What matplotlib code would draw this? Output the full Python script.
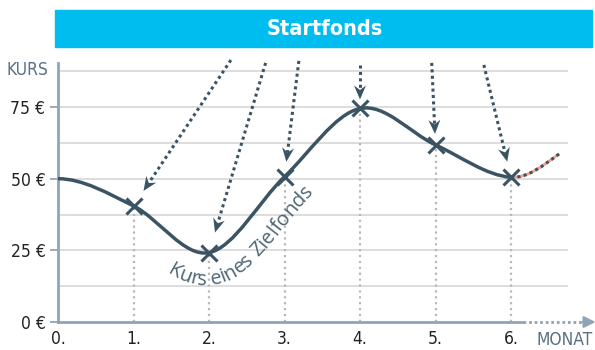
import numpy as np
import matplotlib
matplotlib.use('agg')
import matplotlib.pyplot as plt
from matplotlib.path import Path
from matplotlib.patches import PathPatch, Polygon, Rectangle
from matplotlib.font_manager import FontProperties, fontManager, findfont, get_font
from matplotlib.ft2font import LoadFlags

## Kurs des Startfonds pro Monat (EUR)
months = [0, 1, 2, 3, 4, 5, 6]
kurs = [50, 40.5, 24.2, 50.7, 74.5, 61.8, 50.5]
## Ausblick nach Monat 6
outlook_x = [6.64]
outlook_y = [58.7]

month_labels = ['0.', '1.', '2.', '3.', '4.', '5.', '6.']
y_ticks = [0, 25, 50, 75]
y_labels = ['0 €', '25 €', '50 €', '75 €']
grid_y = [12.5, 25, 37.5, 50, 62.5, 75, 87.5]

## Startpunkte der Zeigerpfeile (Monat 1..6) und Abstand vor dem Kreuz in px
arrow_start = [(2.29, 91.4), (2.75, 90.4), (3.19, 91.1), (4.0, 89.7), (4.95, 90.4), (5.64, 89.7)]
arrow_gap = [18, 21, 15, 9, 11, 16]

dark = '#3b5464'
axis_col = '#8fa5b5'
grid_col = '#dadada'
vline_col = '#b8b8b8'
label_col = '#5b7181'
cyan = '#00bdf0'
salmon = '#f4a283'

## condensed face if the system has one
has_cond = any(f.name == 'DejaVu Sans' and f.stretch == 'condensed' for f in fontManager.ttflist)
if has_cond:
    narrow = dict(family='DejaVu Sans', stretch='condensed')
else:
    narrow = dict(family='Roboto')
tick_size, title_size = 12.5, 15.5


def hermite_path(xs, ys, ms):
    ## cubic Hermite through the points, as bezier segments
    verts = [(xs[0], ys[0])]
    codes = [Path.MOVETO]
    for i in range(len(xs) - 1):
        h = xs[i + 1] - xs[i]
        verts += [(xs[i] + h / 3, ys[i] + ms[i] * h / 3),
                  (xs[i + 1] - h / 3, ys[i + 1] - ms[i + 1] * h / 3),
                  (xs[i + 1], ys[i + 1])]
        codes += [Path.CURVE4] * 3
    return Path(verts, codes)


all_x = np.array(months + outlook_x, dtype=float)
all_y = np.array(kurs + outlook_y, dtype=float)
slopes = np.zeros(len(all_x))
slopes[1:-1] = (all_y[2:] - all_y[:-2]) / (all_x[2:] - all_x[:-2])
slopes[-1] = 1.5 * (all_y[-1] - all_y[-2]) / (all_x[-1] - all_x[-2])

main_path = hermite_path(all_x[:-1], all_y[:-1], slopes[:-1])
outlook_path = hermite_path(all_x[-2:], all_y[-2:], slopes[-2:])

fig = plt.figure(figsize=(5.95, 3.5), dpi=100)
ax = fig.add_axes([58 / 595, 28 / 350, 6.75 * 75.5 / 595, 90.5 * 2.866 / 350])
ax.set_xlim(0, 6.75)
ax.set_ylim(0, 90.5)

for s in ['top', 'right']:
    ax.spines[s].set_visible(False)
ax.spines['left'].set_color(axis_col)
ax.spines['left'].set_linewidth(2)
ax.spines['bottom'].set_color(axis_col)
ax.spines['bottom'].set_linewidth(2)
ax.spines['bottom'].set_bounds(0, 6.16)

ax.set_yticks(y_ticks, y_labels)
ax.set_xticks(months, month_labels)
ax.tick_params(axis='y', direction='out', length=6, width=1.3, color=axis_col,
               pad=3, labelsize=tick_size, labelcolor='#222222')
ax.tick_params(axis='x', length=0, pad=6, labelsize=tick_size, labelcolor='#222222')
for lab in ax.get_xticklabels() + ax.get_yticklabels():
    lab.set(**narrow)

## x axis continues dotted, with arrow head
ax.plot([6.16, 6.98], [0, 0], color=axis_col, lw=2, dashes=(1, 1), clip_on=False)
ax.annotate('', xy=(7.12, 0), xytext=(6.95, 0),
            arrowprops=dict(arrowstyle='-|>,head_length=0.7,head_width=0.35',
                            color=axis_col, lw=1.5, shrinkA=0, shrinkB=0),
            annotation_clip=False)

ax.hlines(grid_y, 0, 6.75, color=grid_col, lw=1.3, zorder=0)
ax.vlines(months[1:], 0, kurs[1:], color=vline_col, lw=1.6, linestyles=':', zorder=1)

ax.add_patch(PathPatch(main_path, fill=False, ec=dark, lw=2.5, capstyle='round', zorder=3))
ax.add_patch(PathPatch(outlook_path, fill=False, ec=salmon, lw=2, zorder=3))
ax.add_patch(PathPatch(outlook_path, fill=False, ec=dark, lw=2.2, ls=(0, (1, 1.1)), zorder=3))

ax.plot(months[1:], kurs[1:], 'x', ms=12, mew=2.2, color=dark, zorder=4)

## pointer arrows: dotted shaft, solid notched head
to_data = ax.transData.inverted()
head_len, head_w, notch = 14, 6, 4.5
for (sx, sy), gap, tx, ty in zip(arrow_start, arrow_gap, months[1:], kurs[1:]):
    p0 = ax.transData.transform((sx, sy))
    p1 = ax.transData.transform((tx, ty))
    d = (p1 - p0) / np.hypot(*(p1 - p0))
    n = np.array([-d[1], d[0]])
    tip = p1 - gap * d
    head = np.array([tip,
                     tip - head_len * d + head_w * n,
                     tip - (head_len - notch) * d,
                     tip - head_len * d - head_w * n])
    shaft_end = to_data.transform(tip - (head_len - notch) * d)
    ax.plot([sx, shaft_end[0]], [sy, shaft_end[1]], color=dark, lw=2.2,
            dashes=(1, 1.1), clip_on=False, zorder=5)
    ax.add_patch(Polygon(to_data.transform(head), closed=True, fc=dark, ec='none',
                         clip_on=False, zorder=5))

## label that runs along below the curve
prop = FontProperties(family='Open Sans', size=14.5)
label = 'Kurs eines Zielfonds'
ft = get_font(findfont(prop))
ft.set_size(prop.get_size_in_points(), fig.dpi)


def advance(ch):
    g = ft.load_char(ord(ch), flags=LoadFlags.NO_HINTING)
    return g.linearHoriAdvance / 65536


pts = np.vstack([seg(np.linspace(0, 1, 80)) for seg, code in main_path.iter_bezier()
                 if code != Path.MOVETO])
disp = ax.transData.transform(pts)
keep = np.concatenate([[True], np.hypot(*np.diff(disp, axis=0).T) > 1e-6])
disp = disp[keep]
tang = np.gradient(disp, axis=0)
tang /= np.hypot(tang[:, 0], tang[:, 1])[:, None]
normal = np.column_stack([tang[:, 1], -tang[:, 0]])
base = disp + 32 * normal
seglen = np.hypot(*np.diff(base, axis=0).T)
arc = np.concatenate([[0], np.cumsum(seglen)])
s = arc[np.argmax(base[:, 0] >= 166)]
for ch in label:
    w = advance(ch)
    sc = s + w / 2
    s += w
    if ch == ' ':
        continue
    bx = np.interp(sc, arc, base[:, 0])
    by = np.interp(sc, arc, base[:, 1])
    k = int(np.clip(np.searchsorted(arc, sc), 1, len(base) - 1))
    ang = np.degrees(np.arctan2(base[k, 1] - base[k - 1, 1], base[k, 0] - base[k - 1, 0]))
    dx, dy = to_data.transform((bx, by))
    ax.text(dx, dy, ch, fontproperties=prop, color='#4d6575', ha='center', va='baseline',
            rotation=ang, rotation_mode='anchor', zorder=4)

## header
fig.patches.append(Rectangle((55 / 595, 1 - 47 / 350), 537 / 595, 37 / 350,
                             transform=fig.transFigure, color=cyan, zorder=0))
fig.text(325 / 595, 1 - 29 / 350, 'Startfonds', color='white', fontsize=title_size,
         fontweight='bold', ha='center', va='center', **narrow)

fig.text(6 / 595, 1 - 70 / 350, 'KURS', color=label_col, fontsize=tick_size,
         ha='left', va='center', **narrow)
fig.text(593 / 595, 1 - 340 / 350, 'MONAT', color=label_col, fontsize=tick_size,
         ha='right', va='center', **narrow)

fig.savefig('out.png', dpi=100)
